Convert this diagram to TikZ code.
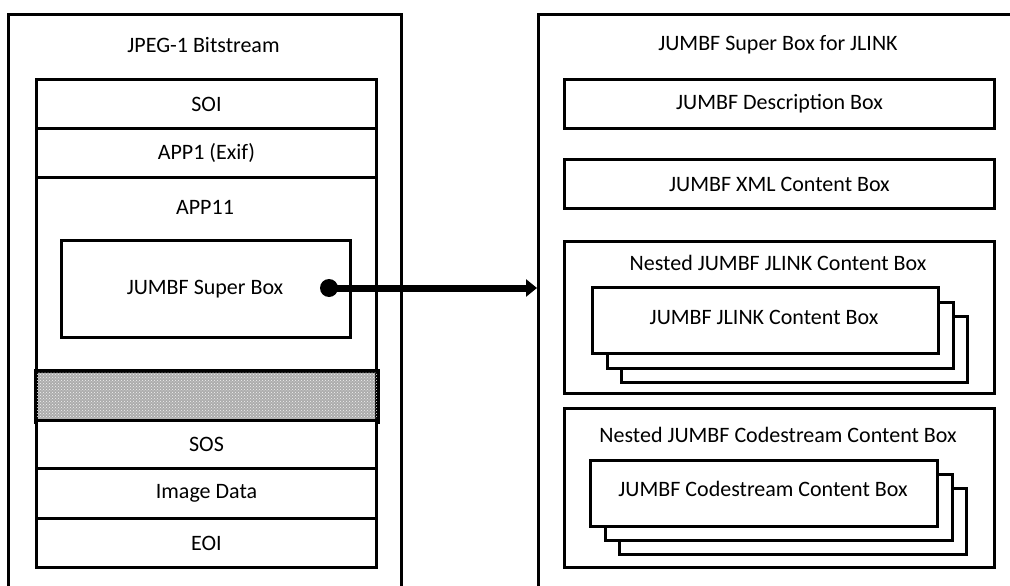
\documentclass[tikz,border=0pt]{standalone}
\usepackage{fontspec}
\setmainfont{Carlito}
\usetikzlibrary{arrows.meta,patterns}
\begin{document}
\begin{tikzpicture}[x=1pt,y=-1pt,
  every node/.style={font=\fontsize{22}{26}\selectfont, inner sep=0pt, text=black},
  outerbox/.style={draw, line width=3.4pt, fill=white},
  plainbox/.style={draw, line width=3pt, fill=white},
  title/.style={anchor=center},
]
\useasboundingbox (0,0) rectangle (1010,586);
\clip (0,0) rectangle (1010,586);
\fill[white] (0,0) rectangle (1010,586);

% ---------- JPEG-1 bitstream ----------
\node[outerbox, minimum width=393pt, minimum height=620pt, anchor=north west] (jpeg) at (7,13) {};
\node[title] (jpegt) at (203.5,45) {JPEG-1 Bitstream};

\node[plainbox, minimum width=340pt, minimum height=49pt, anchor=north west] (soi)  at (35,78)  {SOI};
\node[plainbox, minimum width=340pt, minimum height=49pt, anchor=north west] (app1) at (35,127) {APP1 (Exif)};
\node[plainbox, minimum width=340pt, minimum height=194pt, anchor=north west] (app11) at (35,176) {};
\node[title] (app11t) at (205,207) {APP11};
\node[plainbox, minimum width=289pt, minimum height=97pt, anchor=north west] (super) at (60,239) {};
\node[title] (supert) at (205,289) {JUMBF Super Box};

\node[plainbox, fill=gray!65, minimum width=340pt, minimum height=49pt, anchor=north west] (gap) at (35,370) {};
\path[pattern=crosshatch dots, pattern color=white!90!gray] (gap.north west) rectangle (gap.south east);
\draw[line width=3pt] (gap.north west) rectangle (gap.south east);

\node[plainbox, minimum width=340pt, minimum height=48pt, anchor=north west] (sos)  at (35,419) {SOS};
\node[plainbox, minimum width=340pt, minimum height=50pt, anchor=north west] (img)  at (35,467) {Image Data};
\node[plainbox, minimum width=340pt, minimum height=49pt, anchor=north west] (eoi)  at (35,517) {EOI};

% ---------- JUMBF super box for JLINK ----------
\node[outerbox, minimum width=500pt, minimum height=620pt, anchor=north west] (jlink) at (537,13) {};
\node[title] (jlinkt) at (778,45) {JUMBF Super Box for JLINK};

\node[plainbox, minimum width=430pt, minimum height=49pt, anchor=north west] (desc) at (563,78)  {JUMBF Description Box};
\node[plainbox, minimum width=430pt, minimum height=49pt, anchor=north west] (xml)  at (563,158) {JUMBF XML Content Box};

% nested JLINK content boxes
\node[plainbox, minimum width=430pt, minimum height=152pt, anchor=north west] (njl) at (563,240) {};
\node[title] (njlt) at (778,263) {Nested JUMBF JLINK Content Box};
\node[plainbox, minimum width=346pt, minimum height=66pt, anchor=north west] (jl3) at (620,315) {};
\node[plainbox, minimum width=346pt, minimum height=66pt, anchor=north west] (jl2) at (605.5,300.5) {};
\node[plainbox, minimum width=346pt, minimum height=66pt, anchor=north west] (jl1) at (591,286) {};
\node[title] (jl1t) at (764,317) {JUMBF JLINK Content Box};

% nested codestream content boxes
\node[plainbox, minimum width=430pt, minimum height=159pt, anchor=north west] (ncs) at (563,407) {};
\node[title] (ncst) at (778,435) {Nested JUMBF Codestream Content Box};
\node[plainbox, minimum width=347pt, minimum height=66pt, anchor=north west] (cs3) at (618,487) {};
\node[plainbox, minimum width=347pt, minimum height=66pt, anchor=north west] (cs2) at (603.5,473) {};
\node[plainbox, minimum width=347pt, minimum height=66pt, anchor=north west] (cs1) at (589,459) {};
\node[title] (cs1t) at (763,489) {JUMBF Codestream Content Box};

% ---------- link from the APP11 super box ----------
\coordinate (dot) at (329,288);
\fill (dot) circle (9pt);
\draw[line width=7pt, -{Triangle[length=11pt,width=17pt]}] (dot) -- (dot -| jlink.west);
\end{tikzpicture}
\end{document}
